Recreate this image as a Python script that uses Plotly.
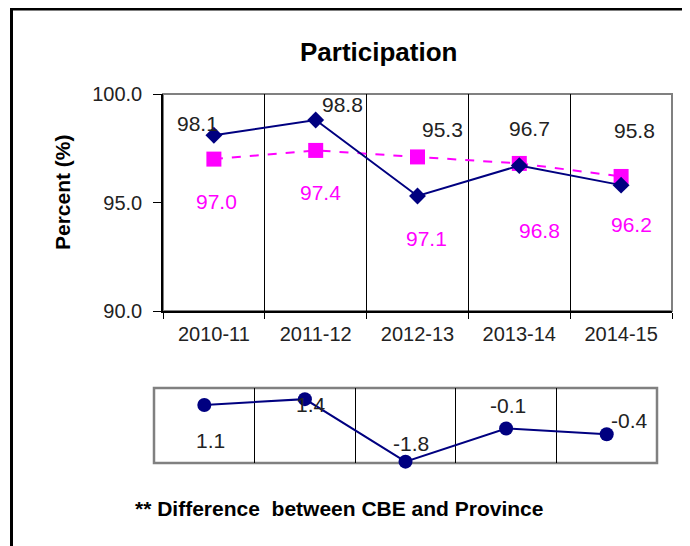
import plotly.graph_objects as go

years = ["2010-11", "2011-12", "2012-13", "2013-14", "2014-15"]
cbe = [98.1, 98.8, 95.3, 96.7, 95.8]
province = [97.0, 97.4, 97.1, 96.8, 96.2]
difference = [1.1, 1.4, -1.8, -0.1, -0.4]
y_ticks = [90.0, 95.0, 100.0]

# label offsets (pixels) to mimic hand-placed labels
cbe_shift = [(-16, 12), (27, 16), (25, 66), (10, 37), (13, 55)]
prov_shift = [(3, -42), (5, -42), (9, -82), (20, -67), (10, -48)]
diff_shift = [(6, -36), (6, -5), (5, 18), (2, 23), (23, 14)]

# page body has an 8px margin; figure coords are page coords minus 8
W, H = 682, 538
OFF = 8
def px(x):
    return (x - OFF) / W
def py(y):
    return 1 - (y - OFF) / H

FONT = "Arial, Liberation Sans, sans-serif"
NAVY = "#000080"
MAG = "#FF00FF"
TXT = "#222222"

fig = go.Figure()

fig.add_trace(go.Scatter(
    x=years, y=province, mode="lines+markers", xaxis="x", yaxis="y",
    line=dict(color=MAG, width=2, dash="dash"),
    marker=dict(symbol="square", size=15, color=MAG), showlegend=False))
fig.add_trace(go.Scatter(
    x=years, y=cbe, mode="lines+markers", xaxis="x", yaxis="y",
    line=dict(color=NAVY, width=2),
    marker=dict(symbol="diamond", size=13, color=NAVY), showlegend=False))
fig.add_trace(go.Scatter(
    x=years, y=difference, mode="lines+markers", xaxis="x2", yaxis="y2",
    line=dict(color=NAVY, width=2), cliponaxis=False,
    marker=dict(symbol="circle", size=14, color=NAVY), showlegend=False))

ann = []
for xv, yv, (dx, dy) in zip(years, cbe, cbe_shift):
    ann.append(dict(x=xv, y=yv, xref="x", yref="y", text=f"{yv:.1f}", showarrow=False,
                    xshift=dx, yshift=dy, font=dict(family=FONT, size=21, color=TXT)))
for xv, yv, (dx, dy) in zip(years, province, prov_shift):
    ann.append(dict(x=xv, y=yv, xref="x", yref="y", text=f"{yv:.1f}", showarrow=False,
                    xshift=dx, yshift=dy, font=dict(family=FONT, size=21, color=MAG)))
for xv, yv, (dx, dy) in zip(years, difference, diff_shift):
    ann.append(dict(x=xv, y=yv, xref="x2", yref="y2", text=f"{yv:.1f}", showarrow=False,
                    xshift=dx, yshift=dy, font=dict(family=FONT, size=21, color=TXT)))

ann.append(dict(x=px(378), y=py(52), xref="paper", yref="paper", text="<b>Participation</b>",
                showarrow=False, xanchor="center", yanchor="middle",
                font=dict(family=FONT, size=26, color="black")))
ann.append(dict(x=px(62), y=py(192), xref="paper", yref="paper", text="<b>Percent (%)</b>",
                showarrow=False, textangle=-90, xanchor="center", yanchor="middle",
                font=dict(family=FONT, size=21, color="black")))
ann.append(dict(x=px(339), y=py(509), xref="paper", yref="paper",
                text="<b>** Difference  between CBE and Province</b>",
                showarrow=False, xanchor="center", yanchor="middle",
                font=dict(family=FONT, size=21, color="black")))

shapes = [
    dict(type="rect", xref="x domain", yref="y domain", x0=0, x1=1, y0=0, y1=1,
         line=dict(color="#808080", width=2), layer="below"),
    dict(type="rect", xref="x2 domain", yref="y2 domain", x0=0, x1=1, y0=0, y1=1,
         line=dict(color="#808080", width=2.5), layer="below"),
    dict(type="path", xref="paper", yref="paper",
         path=f"M {px(11.5)} 0 L {px(11.5)} {py(9)} L 1 {py(9)}",
         line=dict(color="black", width=3)),
]

fig.update_layout(
    width=W, height=H,
    margin=dict(l=0, r=0, t=0, b=0, autoexpand=False),
    paper_bgcolor="white", plot_bgcolor="white",
    font=dict(family=FONT, size=21, color=TXT),
    annotations=ann, shapes=shapes,
    xaxis=dict(domain=[px(163), px(672)], anchor="y", type="category", automargin=False,
               tickson="boundaries", ticks="outside", ticklen=6, tickcolor="black",
               ticklabelstandoff=4,
               showgrid=True, gridcolor="black", gridwidth=1,
               showline=True, linecolor="black", linewidth=1.5,
               tickfont=dict(family=FONT, size=20, color=TXT), range=[-0.5, 4.5]),
    yaxis=dict(domain=[py(311), py(94)], anchor="x", range=[90, 100], automargin=False,
               tickvals=y_ticks, ticktext=[f"{v:.1f}" for v in y_ticks],
               ticks="outside", ticklen=8, tickcolor="black", ticklabelstandoff=7,
               showgrid=False, zeroline=False,
               showline=True, linecolor="black", linewidth=1.5,
               tickfont=dict(family=FONT, size=20, color=TXT)),
    xaxis2=dict(domain=[px(154), px(657)], anchor="y2", type="category", automargin=False,
                tickson="boundaries", ticks="", showticklabels=False,
                showgrid=True, gridcolor="black", gridwidth=1,
                showline=False, range=[-0.5, 4.5]),
    yaxis2=dict(domain=[py(463), py(388)], anchor="x2", range=[-1.87, 1.97], automargin=False,
                showticklabels=False, showgrid=False, zeroline=False, ticks="",
                showline=False),
)

fig.write_html("out.html")
